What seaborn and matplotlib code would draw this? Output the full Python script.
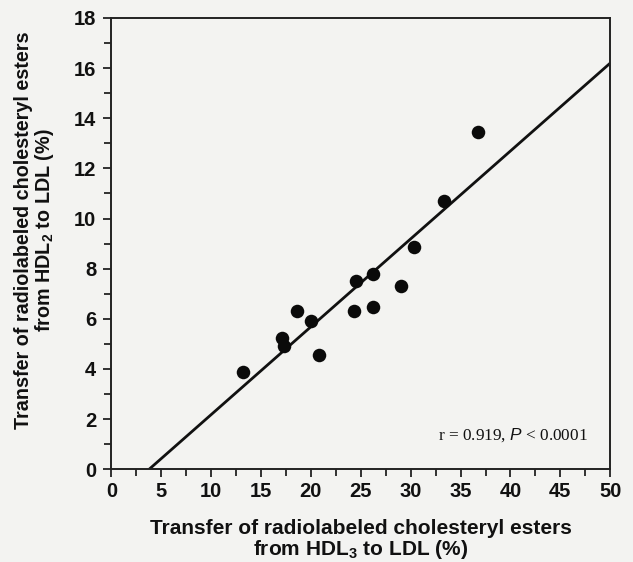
import numpy as np
import pandas as pd
import matplotlib
matplotlib.use("Agg")
import matplotlib.pyplot as plt
from matplotlib.ticker import MultipleLocator
import seaborn as sns

# Transfer of radiolabeled cholesteryl esters (%)
hdl3_to_ldl = [13.2, 17.1, 17.3, 18.6, 20.0, 20.8, 24.3, 24.5, 26.2, 26.2, 29.0, 30.3, 33.3, 36.7]
hdl2_to_ldl = [3.86, 5.23, 4.90, 6.33, 5.90, 4.54, 6.32, 7.52, 6.47, 7.79, 7.29, 8.86, 10.72, 13.45]

# Regression line
slope = 0.3505
intercept = -1.325
r_value = 0.919

x_ticks = [0, 5, 10, 15, 20, 25, 30, 35, 40, 45, 50]
y_ticks = [0, 2, 4, 6, 8, 10, 12, 14, 16, 18]

df = pd.DataFrame({"hdl3": hdl3_to_ldl, "hdl2": hdl2_to_ldl})

sns.set_theme(style="ticks")
bg = "#f3f3f1"
plt.rcParams.update({
    "font.family": ["Liberation Sans", "DejaVu Sans"],
    "mathtext.fontset": "custom",
    "mathtext.rm": "Liberation Sans",
    "mathtext.bf": "Liberation Sans:bold",
    "mathtext.it": "Liberation Sans:italic",
})

fig = plt.figure(figsize=(6.33, 5.62), dpi=100, facecolor=bg)
ax = fig.add_axes([0.176, 0.165, 0.788, 0.803])
ax.set_facecolor(bg)

# fitted line from the x-intercept to the right edge
x0 = -intercept / slope
line_x = np.array([x0, 50.0])
line_df = pd.DataFrame({"x": line_x, "y": slope * line_x + intercept})
sns.lineplot(data=line_df, x="x", y="y", ax=ax, color="#111111", linewidth=2.0)

sns.scatterplot(data=df, x="hdl3", y="hdl2", ax=ax, s=95, color="#0a0a0a",
                edgecolor="#0a0a0a", linewidth=0, zorder=3)

ax.set_xlim(0, 50)
ax.set_ylim(0, 18)
ax.set_xticks(x_ticks)
ax.set_yticks(y_ticks)
ax.xaxis.set_minor_locator(MultipleLocator(2.5))
ax.yaxis.set_minor_locator(MultipleLocator(1))
ax.tick_params(which="both", direction="out", color="#222222", width=1.3)
ax.tick_params(which="major", length=6, labelsize=14.5)
ax.tick_params(axis="x", which="major", pad=3)
ax.tick_params(axis="y", which="major", pad=5)
ax.tick_params(which="minor", length=5)
for lab in ax.get_xticklabels() + ax.get_yticklabels():
    lab.set_fontweight("bold")
    lab.set_color("#111111")

for side in ["left", "right", "top", "bottom"]:
    ax.spines[side].set_visible(True)
    ax.spines[side].set_color("#222222")
    ax.spines[side].set_linewidth(1.4)

ax.set_xlabel("Transfer of radiolabeled cholesteryl esters\nfrom HDL$_\\mathbf{3}$ to LDL (%)",
              fontsize=15, fontweight="bold", color="#111111", linespacing=1.0)
ax.xaxis.set_label_coords(0.5, -0.11, transform=ax.transAxes)
ax.xaxis.label.set_va("top")
ax.set_ylabel("Transfer of radiolabeled cholesteryl esters\nfrom HDL$_\\mathbf{2}$ to LDL (%)",
              fontsize=14.2, fontweight="bold", color="#111111", linespacing=1.0)
ax.yaxis.set_label_coords(-0.112, 0.53)

ax.text(0.955, 0.075, "r = 0.919, $\\it{P}$ < 0.0001", transform=ax.transAxes,
        ha="right", va="center", fontsize=12.4, family="Liberation Serif", color="#111111")

fig.savefig("out.png", dpi=100, facecolor=bg)
